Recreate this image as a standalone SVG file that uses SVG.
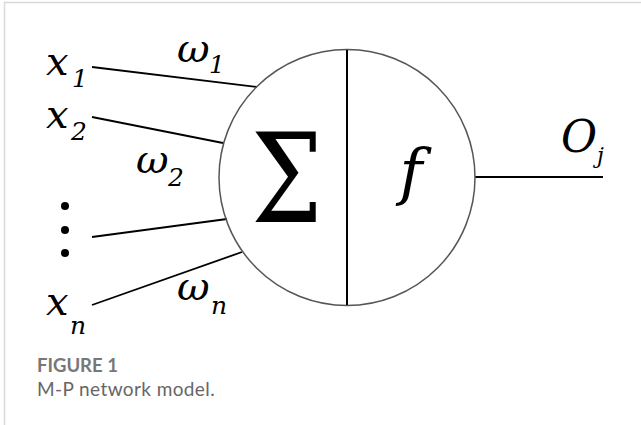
<svg xmlns="http://www.w3.org/2000/svg" width="641" height="425" viewBox="0 0 641 425">
<style>
.e{stroke:#000;stroke-width:1.8;fill:none}
.cap{font-family:Lato,"Liberation Sans",sans-serif}
</style>
<rect x="0" y="0" width="641" height="425" fill="#fff"/>
<path d="M4.5 425 V2.5 H641" fill="none" stroke="#d9d9d9" stroke-width="1.5"/>
<g id="connectors">
<line class="e" x1="92" y1="67" x2="257" y2="87"/>
<line class="e" x1="92" y1="117" x2="223" y2="143"/>
<line class="e" x1="92" y1="237" x2="227" y2="219"/>
<line class="e" x1="92" y1="305" x2="242" y2="252"/>
<line class="e" x1="475" y1="177" x2="603" y2="177"/>
</g>
<g id="neuron">
<circle cx="347" cy="177.5" r="128" fill="none" stroke="#555" stroke-width="1.5"/>
<line x1="347" y1="50" x2="347" y2="305" stroke="#000" stroke-width="2"/>
<text font-family="DejaVu Serif" transform="scale(0.82 1)" x="350" y="222" text-anchor="middle" font-size="123">Σ</text>
<text font-family="DejaVu Serif" font-style="italic" x="411" y="193" text-anchor="middle" font-size="62">f</text>
</g>
<g id="x1"><text font-family="DejaVu Serif" font-style="italic" font-size="48" transform="translate(46 75) scale(0.8333)">x</text><text font-family="DejaVu Serif" font-style="italic" font-size="48" transform="translate(72 87) scale(0.5208)">1</text></g>
<g id="x2"><text font-family="DejaVu Serif" font-style="italic" font-size="48" transform="translate(46 128) scale(0.8333)">x</text><text font-family="DejaVu Serif" font-style="italic" font-size="48" transform="translate(71 140) scale(0.5208)">2</text></g>
<g id="dots"><circle cx="65" cy="206" r="4"/><circle cx="65" cy="230" r="4"/><circle cx="65" cy="253" r="4"/></g>
<g id="xn"><text font-family="DejaVu Serif" font-style="italic" font-size="48" transform="translate(46 315) scale(0.8333)">x</text><text font-family="DejaVu Serif" font-style="italic" font-size="48" transform="translate(70 334) scale(0.5208)">n</text></g>
<g id="w1"><text font-family="DejaVu Serif" font-style="italic" font-size="48" transform="translate(177 62) scale(0.8333)">ω</text><text font-family="DejaVu Serif" font-style="italic" font-size="48" transform="translate(209 73) scale(0.5208)">1</text></g>
<g id="w2"><text font-family="DejaVu Serif" font-style="italic" font-size="48" transform="translate(136 173) scale(0.8333)">ω</text><text font-family="DejaVu Serif" font-style="italic" font-size="48" transform="translate(168 186) scale(0.5208)">2</text></g>
<g id="wn"><text font-family="DejaVu Serif" font-style="italic" font-size="48" transform="translate(177 300) scale(0.8333)">ω</text><text font-family="DejaVu Serif" font-style="italic" font-size="48" transform="translate(211 314) scale(0.5208)">n</text></g>
<g id="output"><text font-family="DejaVu Serif" font-style="italic" font-size="48" transform="translate(561 152) scale(0.9167)">O</text><text font-family="DejaVu Serif" font-style="italic" font-size="48" transform="translate(597 163) scale(0.4583)">j</text></g>
<g id="caption">
<text class="cap" x="37" y="372" font-size="18.5" font-weight="bold" fill="#777">FIGURE 1</text>
<text class="cap" x="37" y="396" font-size="19" letter-spacing="0.4" fill="#666">M-P network model.</text>
</g>
</svg>
